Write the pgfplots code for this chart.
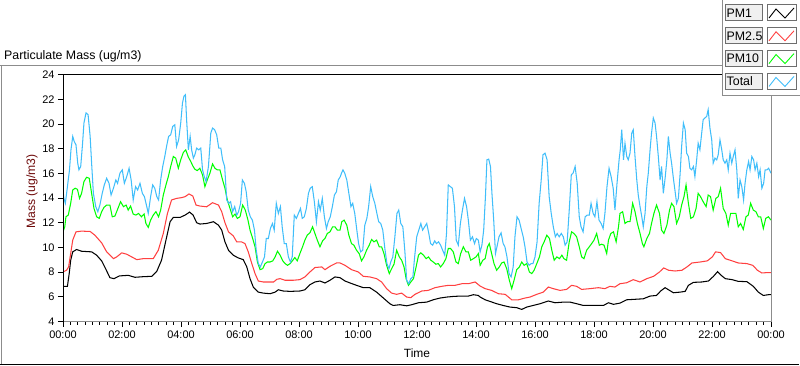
\documentclass[border=0pt]{standalone}
\usepackage{pgfplots}
\pgfplotsset{compat=1.18}
\usepackage{fontspec}
\setmainfont{Liberation Sans}
\definecolor{pmred}{RGB}{255,64,64}
\definecolor{pmgreen}{RGB}{0,255,0}
\definecolor{pmblue}{RGB}{64,190,250}
\definecolor{frgray}{RGB}{140,140,140}
\definecolor{ylab}{RGB}{110,10,10}
\begin{document}
\begin{tikzpicture}[x=1bp,y=1bp]
\useasboundingbox (0,0) rectangle (800,-365);
% title and outer frame
\node[anchor=base west, inner sep=0pt, font=\fontsize{12.4}{14}\selectfont] at (4,-59.5) {Particulate Mass (ug/m3)};
\draw[frgray, line width=1bp] (0,-65.5) -- (722,-65.5);
\draw[frgray, line width=1bp] (1.5,-65.5) -- (1.5,-364);
\draw[black, line width=1bp] (0,-364.5) -- (799,-364.5);
\begin{axis}[
  name=ax,
  at={(63bp,-321.5bp)}, anchor=south west,
  width=708bp, height=247bp, scale only axis,
  xmin=0, xmax=24, ymin=4, ymax=24,
  xtick={0,2,...,24},
  xticklabels={00:00,02:00,04:00,06:00,08:00,10:00,12:00,14:00,16:00,18:00,20:00,22:00,00:00},
  minor x tick num=7,
  ytick={4,6,...,24},
  tick align=outside,
  major tick length=5bp, minor tick length=3bp,
  tick style={black, line width=0.8bp},
  axis line style={line width=1bp},
  xtick pos=bottom, ytick pos=left,
  tick label style={font=\fontsize{11}{12}\selectfont},
  xticklabel style={yshift=-1bp},
  /pgf/number format/assume math mode=true,
  xlabel={Time}, ylabel={Mass (ug/m3)},
  xlabel style={font=\fontsize{12}{13}\selectfont, at={(axis description cs:0.5,-0.13)}, anchor=center},
  ylabel style={font=\fontsize{12.2}{14}\selectfont, color=ylab, at={(axis description cs:-0.0438,0.526)}, anchor=center, rotate=0},
  every axis plot/.append style={line width=1.05bp},
]
\addplot[black] coordinates {
(0.00,6.85)(0.15,6.85)(0.21,7.88)(0.26,8.96)(0.33,9.64)(0.46,9.83)(0.63,9.69)(0.97,9.64)(1.14,9.37)(1.31,8.91)(1.46,8.20)(1.59,7.55)(1.73,7.47)(1.91,7.69)(2.21,7.74)(2.44,7.58)(2.72,7.63)(3.01,7.66)(3.18,8.07)(3.34,8.96)(3.49,10.59)(3.63,12.08)(3.74,12.43)(3.97,12.43)(4.14,12.62)(4.29,12.86)(4.41,12.62)(4.53,12.00)
(4.64,11.89)(4.87,11.94)(5.10,12.08)(5.27,11.80)(5.38,11.40)(5.49,10.45)(5.61,9.77)(5.77,9.37)(5.94,9.15)(6.11,9.01)(6.23,8.42)(6.34,7.47)(6.45,6.79)(6.62,6.38)(6.79,6.30)(7.02,6.25)(7.19,6.38)(7.30,6.57)(7.47,6.47)(7.70,6.44)(8.03,6.47)(8.20,6.57)(8.37,6.98)(8.54,7.20)(8.71,7.28)(8.88,7.12)(9.05,7.34)(9.22,7.61)
(9.39,7.55)(9.56,7.28)(9.73,7.12)(9.95,6.93)(10.18,6.74)(10.40,6.74)(10.63,6.38)(10.86,5.90)(11.08,5.44)(11.19,5.30)(11.42,5.36)(11.65,5.27)(11.82,5.36)(12.05,5.52)(12.33,5.57)(12.55,5.76)(12.78,5.90)(13.01,5.98)(13.23,6.03)(13.46,6.06)(13.74,6.06)(13.91,6.17)(14.08,6.11)
(14.14,5.98)(14.31,5.76)(14.47,5.63)(14.70,5.44)(14.92,5.30)(15.15,5.17)(15.38,5.12)(15.55,4.98)(15.72,5.17)(15.94,5.30)(16.17,5.44)(16.45,5.66)(16.68,5.52)(16.96,5.57)(17.19,5.57)(17.41,5.44)(17.64,5.30)(17.98,5.30)(18.32,5.30)(18.49,5.52)(18.66,5.39)
(18.88,5.49)(19.11,5.76)(19.33,5.79)(19.67,5.84)(19.90,6.06)(20.12,6.11)(20.26,6.47)(20.41,6.74)(20.56,6.52)(20.69,6.33)(20.92,6.38)(21.09,6.44)(21.20,6.93)(21.37,7.17)(21.65,7.20)(21.88,7.28)(22.05,7.66)(22.19,8.04)(22.31,7.74)(22.45,7.47)(22.68,7.39)(22.89,7.25)(23.18,7.23)(23.40,6.85)(23.57,6.38)(23.74,6.11)(23.91,6.17)(24.00,6.17)
};
\addplot[pmred] coordinates {
(0.00,8.01)(0.12,8.15)(0.19,8.42)(0.26,9.50)(0.33,10.59)(0.44,11.26)(0.63,11.32)(0.92,11.29)(1.08,10.99)(1.31,10.37)(1.48,9.64)(1.71,9.09)(1.82,9.23)(1.99,9.56)(2.16,9.45)(2.33,9.23)(2.50,9.01)(2.72,9.09)(2.89,9.09)(3.06,9.09)(3.23,9.77)(3.40,11.13)(3.54,12.75)(3.68,13.84)(3.85,13.97)(4.02,14.03)(4.14,14.11)(4.27,14.33)(4.40,14.16)(4.51,13.43)
(4.64,13.35)(4.87,13.29)(5.07,13.62)(5.27,13.43)(5.38,12.89)(5.49,12.00)(5.61,11.26)(5.77,10.94)(5.89,10.45)(6.05,10.45)(6.17,10.31)(6.28,9.64)(6.40,8.69)(6.51,7.88)(6.62,7.28)(6.79,7.20)(7.14,7.20)(7.25,7.42)(7.36,7.47)(7.53,7.34)(7.80,7.34)(8.03,7.39)(8.20,7.61)(8.37,8.01)(8.54,8.37)(8.77,8.42)(8.88,8.20)(9.05,8.47)(9.27,8.74)
(9.39,8.74)(9.56,8.55)(9.78,8.20)(10.01,8.01)(10.18,7.66)(10.40,7.61)(10.63,7.47)(10.80,7.20)(10.97,6.66)(11.14,6.30)(11.31,6.20)(11.48,6.30)(11.65,5.98)(11.79,5.93)(11.93,6.20)(12.16,6.47)(12.38,6.52)(12.61,6.74)(12.84,6.85)(13.07,6.93)(13.29,6.93)(13.52,7.06)(13.74,7.06)(13.97,7.20)
(14.14,6.87)(14.31,6.66)(14.53,6.52)(14.76,6.25)(14.99,6.20)(15.21,5.76)(15.44,5.76)(15.66,5.90)(15.83,5.98)(16.06,6.20)(16.28,6.38)(16.45,6.79)(16.62,6.66)(16.85,6.52)(17.07,6.60)(17.24,6.93)(17.41,6.85)(17.58,6.60)(17.86,6.66)(18.15,6.74)(18.37,6.66)(18.54,6.85)(18.71,6.79)
(18.88,7.06)(19.11,7.14)(19.33,7.39)(19.56,7.20)(19.79,7.47)(20.02,7.66)(20.22,8.01)(20.36,8.34)(20.53,8.15)(20.75,8.09)(20.98,8.15)(21.15,8.42)(21.32,8.74)(21.60,8.82)(21.84,8.91)(22.01,9.23)(22.12,9.64)(22.29,9.58)(22.45,9.09)(22.68,8.91)(22.89,8.74)(23.18,8.69)(23.38,8.55)(23.54,8.15)(23.69,7.93)(23.86,7.96)(24.00,7.96)
};
\addplot[pmgreen] coordinates {
(0.00,11.26)(0.06,11.67)(0.10,12.48)(0.18,12.62)(0.26,13.57)(0.33,14.65)(0.41,14.79)(0.49,14.70)(0.56,13.97)(0.63,14.38)(0.71,15.33)(0.80,15.68)(0.89,15.60)(0.97,14.38)(1.05,13.16)(1.14,12.48)(1.23,12.35)(1.31,12.89)(1.39,13.24)(1.48,13.43)(1.59,13.43)(1.67,12.48)(1.76,12.54)(1.84,13.02)(1.95,13.70)(2.05,13.30)(2.14,13.43)(2.21,13.02)(2.29,13.35)(2.38,12.70)(2.47,12.62)(2.56,12.75)(2.66,12.48)(2.75,12.70)(2.81,11.94)(2.89,11.62)(2.97,12.21)(3.06,12.62)(3.15,12.89)(3.24,12.48)(3.31,13.02)(3.40,14.24)(3.49,15.06)(3.57,15.73)(3.65,16.55)(3.74,17.36)(3.82,17.23)(3.91,16.41)(3.99,17.09)(4.08,17.69)(4.16,17.90)(4.25,17.31)(4.33,16.96)(4.40,16.60)(4.47,16.33)(4.55,16.22)
(4.64,16.41)(4.73,15.87)(4.81,14.92)(4.89,15.46)(4.98,16.01)(5.07,16.76)(5.15,16.41)(5.23,16.28)(5.32,16.28)(5.41,15.46)(5.49,14.79)(5.57,13.84)(5.66,13.16)(5.75,12.48)(5.83,12.70)(5.91,12.35)(6.00,12.48)(6.09,13.43)(6.18,13.02)(6.27,12.21)(6.34,11.40)(6.43,10.72)(6.51,10.05)(6.59,8.82)(6.68,8.20)(6.77,8.28)(6.85,8.69)(6.93,8.82)(7.02,8.82)(7.11,8.91)(7.19,9.23)(7.27,9.69)(7.36,9.37)(7.45,8.91)(7.53,8.69)(7.61,8.55)(7.70,8.69)(7.79,8.96)(7.86,9.18)(7.94,8.91)(8.03,9.50)(8.12,10.05)(8.20,10.59)(8.28,11.00)(8.37,11.18)(8.46,11.67)(8.54,11.13)(8.62,10.59)(8.71,10.05)(8.80,10.53)(8.88,10.72)(8.96,11.13)(9.05,11.26)(9.14,11.67)(9.22,11.67)(9.30,11.40)
(9.39,11.40)(9.45,12.08)(9.53,12.21)(9.62,11.80)(9.69,10.99)(9.78,10.31)(9.86,10.18)(9.95,9.77)(10.04,9.50)(10.12,8.91)(10.20,9.23)(10.29,9.77)(10.38,10.18)(10.46,10.64)(10.54,10.45)(10.63,10.59)(10.72,10.05)(10.80,10.05)(10.88,9.50)(10.97,8.55)(11.06,7.88)(11.14,8.28)(11.22,8.64)(11.31,9.77)(11.40,9.23)(11.48,8.96)(11.56,8.42)(11.63,7.47)(11.71,6.93)(11.79,7.20)(11.88,7.47)(11.97,8.42)(12.05,9.37)(12.13,9.56)(12.22,9.37)(12.31,9.09)(12.39,9.23)(12.47,8.96)(12.55,8.82)(12.64,8.64)(12.72,8.69)(12.80,8.42)(12.89,8.69)(12.98,9.09)(13.06,9.91)(13.14,9.91)(13.23,9.64)(13.32,8.82)(13.40,8.69)(13.48,9.50)(13.57,10.05)(13.66,9.64)(13.74,9.64)(13.82,8.96)(13.91,9.09)(14.00,9.23)(14.08,9.50)
(14.14,8.55)(14.23,8.96)(14.31,9.09)(14.39,10.05)(14.45,10.31)(14.53,9.50)(14.61,8.69)(14.70,8.15)(14.79,8.42)(14.87,8.74)(14.95,8.82)(15.04,8.28)(15.13,7.34)(15.21,6.66)(15.29,7.34)(15.38,8.20)(15.47,8.42)(15.55,8.82)(15.63,8.55)(15.72,8.69)(15.81,8.01)(15.89,7.88)(15.97,8.15)(16.06,8.69)(16.15,9.23)(16.23,10.05)(16.31,10.45)(16.40,10.99)(16.49,10.72)(16.57,9.77)(16.65,8.96)(16.74,9.23)(16.83,9.09)(16.91,9.37)(16.98,9.09)(17.07,8.96)(17.16,10.45)(17.24,11.26)(17.32,11.13)(17.41,10.86)(17.50,10.05)(17.58,9.23)(17.66,9.09)(17.75,9.77)(17.84,10.05)(17.92,10.31)(18.00,10.59)(18.09,11.13)(18.18,10.18)(18.26,10.26)(18.34,10.18)(18.43,9.50)(18.49,10.59)(18.57,11.13)(18.66,11.26)(18.75,10.45)(18.83,11.67)
(18.88,12.75)(18.97,12.89)(19.05,11.94)(19.13,12.08)(19.22,12.08)(19.31,13.57)(19.39,12.89)(19.47,11.94)(19.56,11.13)(19.64,10.31)(19.69,10.05)(19.79,10.72)(19.88,11.13)(19.95,11.94)(20.03,12.75)(20.12,13.43)(20.22,12.75)(20.29,11.40)(20.37,11.13)(20.47,11.80)(20.56,13.02)(20.63,13.57)(20.71,13.30)(20.80,11.94)(20.89,12.48)(20.97,13.43)(21.05,14.11)(21.12,15.06)(21.20,13.57)(21.28,12.35)(21.37,12.48)(21.46,13.16)(21.53,14.38)(21.61,14.11)(21.70,13.70)(21.80,13.30)(21.87,14.24)(21.95,14.11)(22.04,13.02)(22.13,13.97)(22.21,14.11)(22.29,14.79)(22.38,13.16)(22.47,12.75)(22.55,11.80)(22.63,12.75)(22.72,12.75)(22.81,12.75)(22.89,11.67)(22.97,11.94)(23.06,11.45)(23.15,12.48)(23.23,12.62)(23.31,13.57)(23.40,13.02)(23.49,12.89)(23.57,12.48)(23.65,12.48)(23.74,11.53)(23.82,12.35)(23.91,12.48)(24.00,12.21)
};
\addplot[pmblue] coordinates {
(0.00,14.65)(0.03,13.97)(0.08,13.57)(0.15,14.92)(0.22,16.28)(0.27,17.90)(0.33,18.99)(0.38,18.58)(0.44,18.31)(0.50,16.82)(0.54,16.28)(0.60,16.55)(0.66,18.31)(0.71,20.07)(0.78,20.89)(0.85,20.75)(0.92,18.99)(0.97,16.82)(1.03,14.38)(1.11,13.30)(1.18,12.89)(1.25,13.43)(1.33,14.38)(1.40,15.06)(1.48,15.60)(1.56,15.19)(1.63,14.24)(1.71,14.79)(1.79,15.46)(1.85,15.19)(1.93,16.01)(2.01,16.28)(2.08,15.19)(2.16,15.73)(2.24,16.41)(2.31,15.46)(2.38,13.84)(2.46,14.92)(2.53,14.65)(2.61,15.19)(2.69,14.38)(2.76,14.11)(2.84,13.30)(2.89,12.75)(2.97,14.11)(3.04,15.06)(3.11,14.79)(3.18,14.11)(3.24,13.84)(3.31,15.46)(3.38,16.55)(3.45,17.36)(3.51,18.17)(3.58,18.99)(3.65,19.12)(3.72,19.80)(3.79,19.93)(3.85,18.17)(3.92,18.71)(3.99,20.07)(4.05,21.70)(4.10,22.24)(4.15,22.37)(4.19,20.34)(4.25,17.90)(4.31,18.99)(4.36,17.90)(4.42,17.23)(4.47,17.50)(4.53,18.04)(4.60,17.90)
(4.67,18.04)(4.73,16.28)(4.79,15.73)(4.85,15.33)(4.93,16.55)(5.01,19.26)(5.07,19.66)(5.14,19.53)(5.21,19.12)(5.28,18.04)(5.35,18.04)(5.41,17.09)(5.48,16.55)(5.55,13.84)(5.62,13.57)(5.68,13.70)(5.75,12.89)(5.82,13.30)(5.89,12.62)(5.95,12.89)(6.02,13.57)(6.08,15.46)(6.15,15.19)(6.21,14.51)(6.28,13.02)(6.35,12.48)(6.42,12.21)(6.49,11.40)(6.55,9.77)(6.62,8.69)(6.69,8.42)(6.76,8.82)(6.83,9.23)(6.89,10.72)(6.96,10.72)(7.03,11.53)(7.10,11.94)(7.16,11.40)(7.23,13.57)(7.30,12.75)(7.37,13.30)(7.43,11.67)(7.50,10.31)(7.57,10.31)(7.64,9.23)(7.71,8.82)(7.77,9.23)(7.84,12.62)(7.91,12.35)(7.98,12.75)(8.05,13.16)(8.11,12.35)(8.18,12.48)(8.25,13.16)(8.32,14.38)(8.38,14.79)(8.45,14.92)(8.52,13.70)(8.59,12.08)(8.66,13.70)(8.72,13.02)(8.79,13.97)(8.86,12.48)(8.93,11.53)(8.99,12.08)(9.06,12.48)(9.13,13.30)(9.20,14.24)(9.27,14.51)(9.33,15.46)(9.40,15.73)
(9.44,16.01)(9.49,16.28)(9.55,16.01)(9.62,15.46)(9.69,14.38)(9.76,13.30)(9.82,13.57)(9.89,12.75)(9.96,11.40)(10.02,10.31)(10.09,9.64)(10.16,9.77)(10.23,11.80)(10.30,12.35)(10.36,13.30)(10.43,14.92)(10.50,14.11)(10.57,13.57)(10.64,12.75)(10.70,12.08)(10.77,11.94)(10.84,11.40)(10.91,9.91)(10.98,8.69)(11.05,8.28)(11.11,8.82)(11.18,9.23)(11.25,10.86)(11.32,12.75)(11.38,13.02)(11.45,11.94)(11.52,11.67)(11.59,9.64)(11.65,7.34)(11.72,7.06)(11.79,7.47)(11.86,7.61)(11.92,9.23)(11.99,10.86)(12.06,11.40)(12.13,11.94)(12.19,11.40)(12.26,11.67)(12.33,11.94)(12.40,11.13)(12.46,10.31)(12.53,10.18)(12.60,10.53)(12.66,10.31)(12.73,10.45)(12.80,10.18)(12.87,9.77)(12.94,9.37)(13.00,11.13)(13.06,15.06)(13.13,14.92)(13.20,14.79)(13.27,13.30)(13.33,10.59)(13.40,10.18)(13.47,11.94)(13.54,13.02)(13.61,13.97)(13.68,13.30)(13.74,12.21)(13.81,10.59)(13.88,10.86)(13.95,10.31)(14.01,10.72)(14.08,10.59)
(14.14,9.64)(14.20,10.18)(14.26,11.40)(14.32,14.11)(14.37,17.09)(14.43,17.15)(14.49,16.55)(14.54,14.38)(14.60,12.21)(14.66,9.50)(14.71,10.05)(14.78,10.86)(14.85,11.18)(14.92,10.31)(14.98,10.05)(15.05,9.23)(15.12,7.88)(15.19,7.61)(15.26,8.42)(15.32,10.86)(15.39,12.48)(15.46,12.21)(15.53,11.53)(15.60,10.86)(15.66,10.05)(15.73,8.82)(15.80,8.55)(15.87,8.69)(15.93,8.69)(16.00,9.23)(16.07,10.45)(16.14,13.57)(16.21,15.46)(16.27,17.50)(16.34,17.63)(16.41,17.09)(16.48,14.11)(16.55,12.75)(16.62,11.67)(16.69,10.86)(16.75,11.13)(16.82,10.86)(16.89,11.13)(16.96,10.86)(17.02,10.18)(17.09,10.45)(17.16,13.02)(17.23,15.87)(17.29,16.01)(17.36,16.55)(17.43,15.19)(17.50,12.48)(17.56,11.67)(17.63,11.26)(17.70,12.48)(17.77,12.62)(17.84,12.62)(17.90,13.57)(17.97,12.75)(18.03,12.48)(18.10,13.70)(18.17,12.21)(18.24,11.94)(18.31,11.53)(18.37,12.75)(18.44,14.92)(18.51,16.41)(18.58,15.73)(18.65,14.79)(18.71,13.02)(18.78,15.19)(18.85,17.09)
(18.89,17.90)(18.94,19.53)(19.00,17.09)(19.05,18.44)(19.11,17.36)(19.16,17.09)(19.22,17.63)(19.28,19.26)(19.33,19.53)(19.39,17.36)(19.45,15.46)(19.50,14.24)(19.56,13.30)(19.62,12.48)(19.67,11.67)(19.73,12.75)(19.79,14.92)(19.84,16.01)(19.90,17.90)(19.95,19.26)(20.01,20.48)(20.07,20.07)(20.12,18.99)(20.18,17.36)(20.24,15.46)(20.29,16.55)(20.35,14.38)(20.41,15.60)(20.47,17.09)(20.52,18.99)(20.58,17.63)(20.63,16.82)(20.69,15.60)(20.75,14.51)(20.80,13.57)(20.86,13.97)(20.92,16.01)(20.97,18.17)(21.03,20.07)(21.09,19.53)(21.14,17.63)(21.20,17.36)(21.25,16.41)(21.31,16.28)(21.37,16.55)(21.42,15.73)(21.48,17.09)(21.53,18.44)(21.59,17.90)(21.65,19.26)(21.70,20.34)(21.76,20.48)(21.82,20.61)(21.87,21.15)(21.93,19.66)(21.99,18.71)(22.04,16.82)(22.10,17.23)(22.16,17.09)(22.21,17.50)(22.27,18.71)(22.33,17.90)(22.38,17.09)(22.44,16.82)(22.50,17.09)(22.55,16.28)(22.61,17.63)(22.67,16.82)(22.72,17.36)(22.78,17.90)(22.84,16.28)(22.89,13.97)(22.95,15.46)(23.01,14.92)(23.07,13.84)(23.12,15.19)(23.18,16.28)(23.24,16.96)(23.29,16.28)(23.35,17.36)(23.41,17.09)(23.46,16.28)(23.52,16.82)(23.58,15.73)(23.63,16.28)(23.69,14.79)(23.75,15.19)(23.80,16.28)(23.86,16.28)(23.92,16.41)(24.00,16.01)
};
\end{axis}
% plot frame: black left/top, gray right/bottom
\draw[frgray, line width=1bp] (ax.south west) -- (ax.south east) -- (ax.north east);
\draw[black, line width=1bp] (ax.south west) -- (ax.north west) -- (ax.north east);
% legend panel
\fill[white] (722,0) rectangle (800,-95.5);
\draw[frgray, line width=1bp] (722.5,0) -- (722.5,-95.5) -- (800,-95.5);
\foreach \lab/\col [count=\i from 0] in {PM1/black,PM2.5/pmred,PM10/pmgreen,Total/pmblue}{
  \pgfmathsetmacro{\r}{-4.5-22.8*\i}
  \draw[fill={rgb,255:red,240;green,240;blue,240}, draw={rgb,255:red,110;green,110;blue,110}, line width=0.8bp] (725.5,\r) rectangle (762.5,\r-16);
  \node[anchor=west, inner sep=0pt, font=\fontsize{12.4}{14}\selectfont] at (726.5,\r-8.5) {\lab};
  \draw[fill=white, draw={rgb,255:red,110;green,110;blue,110}, line width=0.8bp] (767.5,\r) rectangle (796.5,\r-16);
  \draw[\col, line width=0.9bp] (769,\r-13.5) -- (776,\r-4.5) -- (785,\r-13.5) -- (794,\r-3.5);
}
\end{tikzpicture}
\end{document}
